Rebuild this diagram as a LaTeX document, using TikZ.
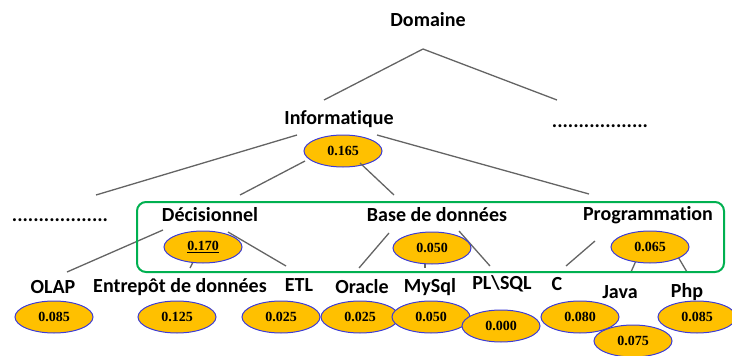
\documentclass[tikz,border=0pt]{standalone}
\usepackage{fontspec}
\setmainfont{Carlito}[Ligatures={NoCommon,NoContextual,NoRequired}]
\newfontfamily\numfont{Liberation Serif}
\usetikzlibrary{shapes.geometric}
\definecolor{wgold}{RGB}{255, 192, 0}
\definecolor{wblue}{RGB}{60, 60, 215}
\definecolor{wgreen}{RGB}{0, 176, 80}
\definecolor{wlink}{RGB}{100, 100, 100}

\begin{document}
\begin{tikzpicture}[x=1pt, y=-1pt,
    term/.style={font=\bfseries\fontsize{20}{24}\selectfont, inner sep=2pt},
    weight/.style={ellipse, draw=wblue, line width=1pt, fill=wgold,
                   minimum width=78pt, minimum height=32pt, inner sep=0pt,
                   font=\numfont\bfseries\fontsize{14}{16}\selectfont},
    link/.style={draw=wlink, line width=1.3pt}]
        \useasboundingbox (0, 0) rectangle (732, 356);
        % pixel grid of the scan: x to the right, y downwards

        % ── Concept labels ───────────────────────────────────────────────
        \node[term] (dom)   at (428, 20)  {Domaine};
        \node[term] (info)  at (339, 119) {Informatique};
        \node[term] (dotsR) at (600, 126) {..................};
        \node[term] (dotsL) at (60, 220)  {..................};
        \node[term] (dec)   at (210, 215) {Décisionnel};
        \node[term] (bdd)   at (437, 215) {Base de données};
        \node[term] (prog)  at (648, 215) {Programmation};

        \node[term] (olap)  at (53, 287)  {OLAP};
        \node[term] (entr)  at (180, 287) {Entrepôt de données};
        \node[term] (etl)   at (299, 285) {ETL};
        \node[term] (orac)  at (362, 287) {Oracle};
        \node[term] (mysql) at (430, 287) {MySql};
        \node[term] (plsql) at (502, 284) {PL\textbackslash SQL};
        \node[term] (c)     at (557, 284) {C};
        \node[term] (java)  at (620, 292) {Java};
        \node[term] (php)   at (687, 292) {Php};

        \coordinate (fork) at ([shift={(-5, 29)}]dom.center);

        % ── Links (drawn first, weights sit on top) ─────────────────────
        \draw[link] (fork) -- ([shift={(-15, -19)}]info.center);
        \draw[link] (fork) -- ([shift={(-43, -26)}]dotsR.center);
        \draw[link] ([shift={(-42, 16)}]info.center) -- ([shift={(36, -25)}]dotsL.center);
        \draw[link] ([shift={(38, 16)}]info.center) -- ([shift={(-59, -21)}]prog.center);

        \draw[link] ([shift={(-47, 15)}]dec.center) -- ([shift={(14, -15)}]olap.center);
        \draw[link] ([shift={(-8, 30)}]dec.center) -- ([shift={(10, -19)}]entr.center);
        \draw[link] ([shift={(18, 17)}]dec.center) -- ([shift={(-13, -19)}]etl.center);

        \draw[link] ([shift={(-48, 18)}]bdd.center) -- ([shift={(-3, -19)}]orac.center);
        \draw[link] ([shift={(-12, 35)}]bdd.center) -- ([shift={(-5, -19)}]mysql.center);
        \draw[link] ([shift={(22, 16)}]bdd.center) -- ([shift={(-12, -18)}]plsql.center);

        \draw[link] ([shift={(-53, 26)}]prog.center) -- ([shift={(9, -18)}]c.center);
        \draw[link] ([shift={(-5, 30)}]prog.center) -- ([shift={(11, -20)}]java.center);
        \draw[link] ([shift={(23, 30)}]prog.center) -- ([shift={(0, -20)}]php.center);

        % ── Weights ──────────────────────────────────────────────────────
        \node[weight] (w-info) at (343, 151) {0.165};
        \draw[link] ([shift={(-38, 10)}]w-info.center) -- ([shift={(30, -20)}]dec.center);
        \draw[link] ([shift={(17, 12)}]w-info.center) -- ([shift={(-43, -20)}]bdd.center);

        \node[weight] (w-dec)  at (203, 247) {\underline{0.170}};
        \node[weight] (w-bdd)  at (432, 248) {0.050};
        \node[weight] (w-prog) at (650, 247) {0.065};

        \node[weight] (w-olap)  at (54, 317)  {0.085};
        \node[weight] (w-entr)  at (177, 317) {0.125};
        \node[weight] (w-etl)   at (281, 317) {0.025};
        \node[weight] (w-orac)  at (360, 317) {0.025};
        \node[weight] (w-mysql) at (431, 317) {0.050};
        \node[weight] (w-plsql) at (501, 326) {0.000};
        \node[weight] (w-c)     at (580, 317) {0.080};
        \node[weight] (w-java)  at (633, 341) {0.075};
        \node[weight] (w-php)   at (697, 317) {0.085};

        % ── Selected sub-domains ─────────────────────────────────────────
        \draw[wgreen, line width=2pt, rounded corners=9pt]
              (137, 202) rectangle (724, 272);
      \end{tikzpicture}
\end{document}
